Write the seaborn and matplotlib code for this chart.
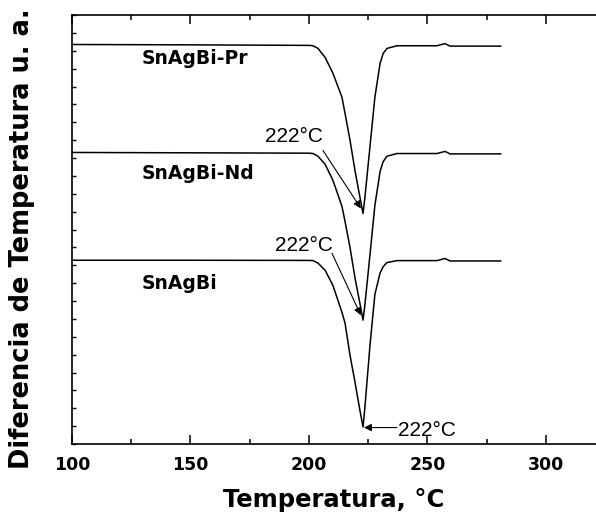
import matplotlib
matplotlib.use('Agg')
import matplotlib.pyplot as plt
import seaborn as sns
from matplotlib.ticker import MultipleLocator

# temperatura (°C) y señales DTA (u. a.)
temp = [100, 150, 200, 201.7, 203.8, 206.8, 210.1, 213.9, 215.2, 217.3, 219.4, 221.5,
        222.8, 223.6, 225.7, 227.8, 230.0, 231.3, 232.9, 237.1, 254, 257.4, 259.5, 281]
sn_pr = [22.35, 22.33, 22.30, 22.28, 22.13, 21.63, 20.74, 19.40, 18.50, 17.00, 15.30, 13.80,
         12.90, 13.80, 16.60, 19.40, 21.30, 21.85, 22.13, 22.28, 22.28, 22.40, 22.26, 22.26]
sn_nd = [16.31, 16.29, 16.27, 16.25, 16.10, 15.65, 14.75, 13.30, 12.45, 11.00, 9.30, 7.85,
         6.93, 7.80, 10.55, 13.35, 15.25, 15.80, 16.10, 16.25, 16.25, 16.37, 16.23, 16.23]
sn_ag = [10.28, 10.28, 10.27, 10.26, 10.12, 9.72, 8.87, 7.37, 6.77, 4.97, 3.47, 1.87,
         0.95, 2.07, 5.47, 8.37, 9.57, 9.92, 10.15, 10.26, 10.26, 10.38, 10.24, 10.24]
names = ['SnAgBi-Pr', 'SnAgBi-Nd', 'SnAgBi']
peak_label = '222°C'

sns.set_style('ticks', {'axes.edgecolor': 'black', 'text.color': 'black',
                        'axes.labelcolor': 'black', 'xtick.color': 'black',
                        'ytick.color': 'black'})
plt.rcParams['font.family'] = ['DejaVu Sans']

fig = plt.figure(figsize=(5.96, 5.16), dpi=100)
ax = fig.add_axes([72/596, 1-444/516, 1-72/596, 429/516])

for vals in [sn_pr, sn_nd, sn_ag]:
    sns.lineplot(x=temp, y=vals, color='black', lw=1.1, ax=ax)

ax.set_xlim(100, 321.1)
ax.set_ylim(0, 24)
ax.xaxis.set_major_locator(MultipleLocator(50))
ax.xaxis.set_minor_locator(MultipleLocator(25))
ax.yaxis.set_major_locator(MultipleLocator(1))
ax.set_yticklabels([])
ax.tick_params(axis='x', which='major', direction='in', length=6.5, width=1.1,
               top=True, pad=9, labelsize=12.5)
ax.tick_params(axis='x', which='minor', direction='in', length=3.5, width=1.1, top=True)
ax.tick_params(axis='y', which='major', direction='in', length=3, width=1.0)
for lab in ax.get_xticklabels():
    lab.set_fontweight('bold')
ax.spines['right'].set_visible(False)
for s in ['left', 'bottom', 'top']:
    ax.spines[s].set_linewidth(1.2)

ax.set_xlabel('Temperatura, °C', fontsize=17.5, fontweight='bold', labelpad=10)
ax.set_ylabel('Diferencia de Temperatura u. a.', fontsize=18.5, fontweight='bold')
ax.yaxis.label.set_va('center')
ax.yaxis.set_label_coords(-0.095, 0.478)

for name, y in zip(names, [21.56, 15.14, 9.0]):
    ax.text(129.5, y, name, fontsize=13.5, fontweight='bold', ha='left', va='center')

arrow = dict(arrowstyle='-|>', color='black', lw=0.8, mutation_scale=11, shrinkA=0, shrinkB=0)
ax.annotate('', xy=(221.9, 13.18), xytext=(205.9, 16.42), arrowprops=arrow)
ax.annotate('', xy=(221.9, 7.2), xytext=(209.7, 10.67), arrowprops=arrow)
ax.annotate('', xy=(223.2, 0.92), xytext=(237.1, 0.92), arrowprops=arrow)
for x, y in [(193.7, 17.2), (197.9, 11.12), (249.8, 0.73)]:
    ax.text(x, y, peak_label, fontsize=15, family='Liberation Sans', ha='center', va='center')

fig.savefig('out.png', dpi=100)
